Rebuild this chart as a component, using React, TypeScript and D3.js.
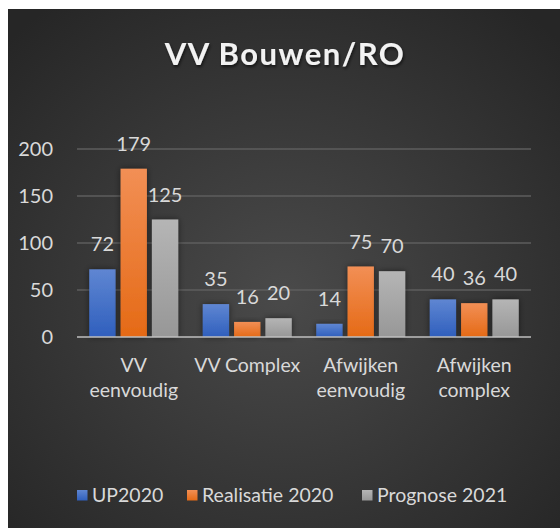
import React from "react";
import * as d3 from "d3";

const categories = [["VV", "eenvoudig"], ["VV Complex"], ["Afwijken", "eenvoudig"], ["Afwijken", "complex"]];
const seriesNames = ["UP2020", "Realisatie 2020", "Prognose 2021"];
const up2020 = [72, 35, 14, 40];
const realisatie2020 = [179, 16, 75, 36];
const prognose2021 = [125, 20, 70, 40];
const yTicks = [0, 50, 100, 150, 200];

const seriesValues = [up2020, realisatie2020, prognose2021];
const gradTop = ["#5f86d2", "#f28f55", "#b5b5b5"];
const gradBottom = ["#2f5fbd", "#e56a16", "#979797"];

const FONT = "Lato, 'Open Sans', sans-serif";

export default function App() {
  const W = 560, H = 528;
  const left = 77, right = 531, top = 149, bottom = 337;
  const x0 = d3.scaleBand<number>().domain(d3.range(categories.length)).range([left, right]).paddingInner(0.216).paddingOuter(0.108);
  const x1 = d3.scaleBand<number>().domain(d3.range(seriesNames.length)).range([0, x0.bandwidth()]).paddingInner(0.16);
  const y = d3.scaleLinear().domain([0, 200]).range([bottom, top]);

  const legendX = [77, 187, 362];

  return (
    <svg width={W} height={H} style={{ position: "absolute", left: 0, top: 0, display: "block" }}>
      <defs>
        <radialGradient id="bg" cx="0.5" cy="0.55" r="0.7">
          <stop offset="0" stopColor="#4a4a4a" />
          <stop offset="1" stopColor="#262626" />
        </radialGradient>
        {seriesNames.map((s, i) => (
          <linearGradient key={i} id={`g${i}`} x1="0" y1="0" x2="0" y2="1">
            <stop offset="0" stopColor={gradTop[i]} />
            <stop offset="1" stopColor={gradBottom[i]} />
          </linearGradient>
        ))}
        <filter id="shadow" x="-30%" y="-30%" width="160%" height="160%">
          <feDropShadow dx="0" dy="0" stdDeviation="3" floodColor="#000" floodOpacity="0.5" />
        </filter>
        <filter id="tshadow" x="-10%" y="-30%" width="120%" height="160%">
          <feDropShadow dx="1" dy="2" stdDeviation="1.5" floodColor="#000" floodOpacity="0.6" />
        </filter>
      </defs>
      <rect x={0} y={0} width={W} height={H} fill="#fff" />
      <rect x={8} y={9} width={W - 8} height={H - 9} fill="url(#bg)" />
      <text x={285} y={65} textAnchor="middle" fill="#f2f2f2" fontFamily={FONT} fontWeight="bold" fontSize={31} letterSpacing={1.5} filter="url(#tshadow)">
        VV Bouwen/RO
      </text>
      {yTicks.map((t) => (
        <g key={t}>
          {t !== 0 && <line x1={left} x2={right} y1={y(t)} y2={y(t)} stroke="#5e5e5e" strokeWidth={1.5} />}
          <text x={53} y={y(t)} dy="0.35em" textAnchor="end" fill="#d9d9d9" fontFamily={FONT} fontSize={20}>
            {t}
          </text>
        </g>
      ))}
      {categories.map((c, ci) => (
        <g key={ci}>
          {seriesValues.map((vals, si) => {
            const bx = (x0(ci) as number) + (x1(si) as number);
            const bw = x1.bandwidth();
            return (
              <g key={si}>
                <rect x={bx} y={y(vals[ci])} width={bw} height={bottom - y(vals[ci])} fill={`url(#g${si})`} filter="url(#shadow)" />
                <text x={bx + bw / 2} y={y(vals[ci]) - 18} textAnchor="middle" fill="#d9d9d9" fontFamily={FONT} fontSize={20}>
                  {vals[ci]}
                </text>
              </g>
            );
          })}
          {c.map((line, li) => (
            <text key={li} x={(x0(ci) as number) + x0.bandwidth() / 2} y={365 + li * 25} dy="0.35em" textAnchor="middle" fill="#d9d9d9" fontFamily={FONT} fontSize={19.5}>
              {line}
            </text>
          ))}
        </g>
      ))}
      <line x1={left} x2={right} y1={bottom} y2={bottom} stroke="#bfbfbf" strokeOpacity={0.75} strokeWidth={2} />
      {seriesNames.map((s, i) => (
        <g key={s}>
          <rect x={legendX[i]} y={490} width={10.5} height={10.5} fill={`url(#g${i})`} />
          <text x={legendX[i] + 15} y={495.5} dy="0.35em" fill="#d9d9d9" fontFamily={FONT} fontSize={19.5}>
            {s}
          </text>
        </g>
      ))}
    </svg>
  );
}
